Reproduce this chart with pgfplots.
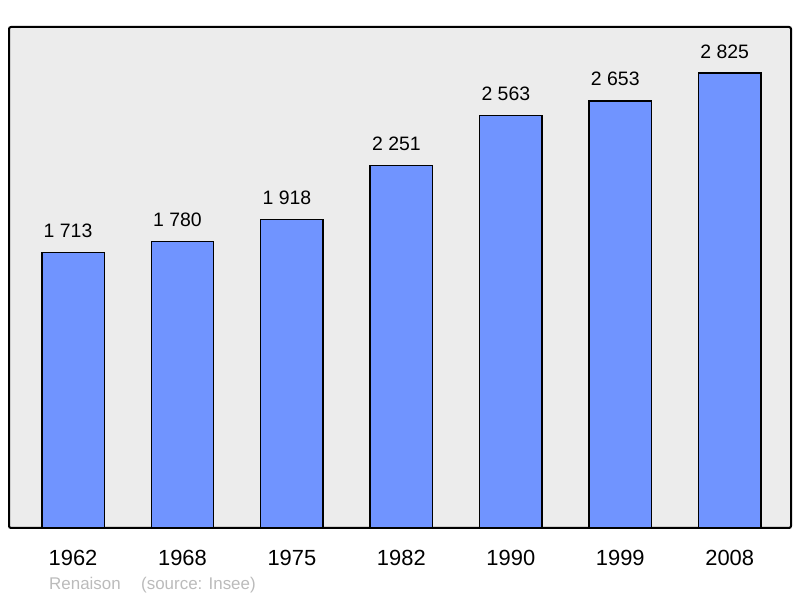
\documentclass[border=0pt]{standalone}
\usepackage{pgfplots}
\pgfplotsset{compat=1.18}
\usepackage{fontspec}
\setmainfont{Liberation Sans}
\definecolor{barblue}{HTML}{7094FF}
\definecolor{plotbg}{HTML}{ECECEC}
\definecolor{footgray}{HTML}{BBBBBB}

\begin{document}
\begin{tikzpicture}[x=1bp,y=1bp]
\path[use as bounding box] (0,0) rectangle (800,598);
\begin{axis}[
    at={(9bp,70bp)}, anchor=south west,
    scale only axis,
    width=782bp, height=501bp,
    xmin=-0.585, xmax=6.56,
    ymin=0, ymax=3112,
    xtick=data,
    xticklabels={1962,1968,1975,1982,1990,1999,2008},
    ytick=\empty,
    xtick style={draw=none},
    xticklabel style={font=\fontsize{22}{24}\selectfont, anchor=base, yshift=-33bp},
    axis background/.style={fill=plotbg},
    axis line style={line width=2bp, rounded corners=2bp},
    ybar, bar width=0.57,
    point meta=explicit symbolic,
    nodes near coords,
    every node near coord/.append style={font=\fontsize{19.5}{21}\selectfont, anchor=base, yshift=15bp, xshift=-5bp},
]
\addplot[fill=barblue, draw=black, line width=1.4bp] coordinates {
    (0,1713) [1 713]
    (1,1780) [1 780]
    (2,1918) [1 918]
    (3,2251) [2 251]
    (4,2563) [2 563]
    (5,2653) [2 653]
    (6,2825) [2 825]
};
\end{axis}
\node[anchor=base west, text=footgray, font=\fontsize{17}{19}\selectfont, inner sep=0] at (49,8) {Renaison};
\node[anchor=base west, text=footgray, font=\fontsize{17}{19}\selectfont, inner sep=0] at (141,8) {(source: Insee)};
\end{tikzpicture}
\end{document}
